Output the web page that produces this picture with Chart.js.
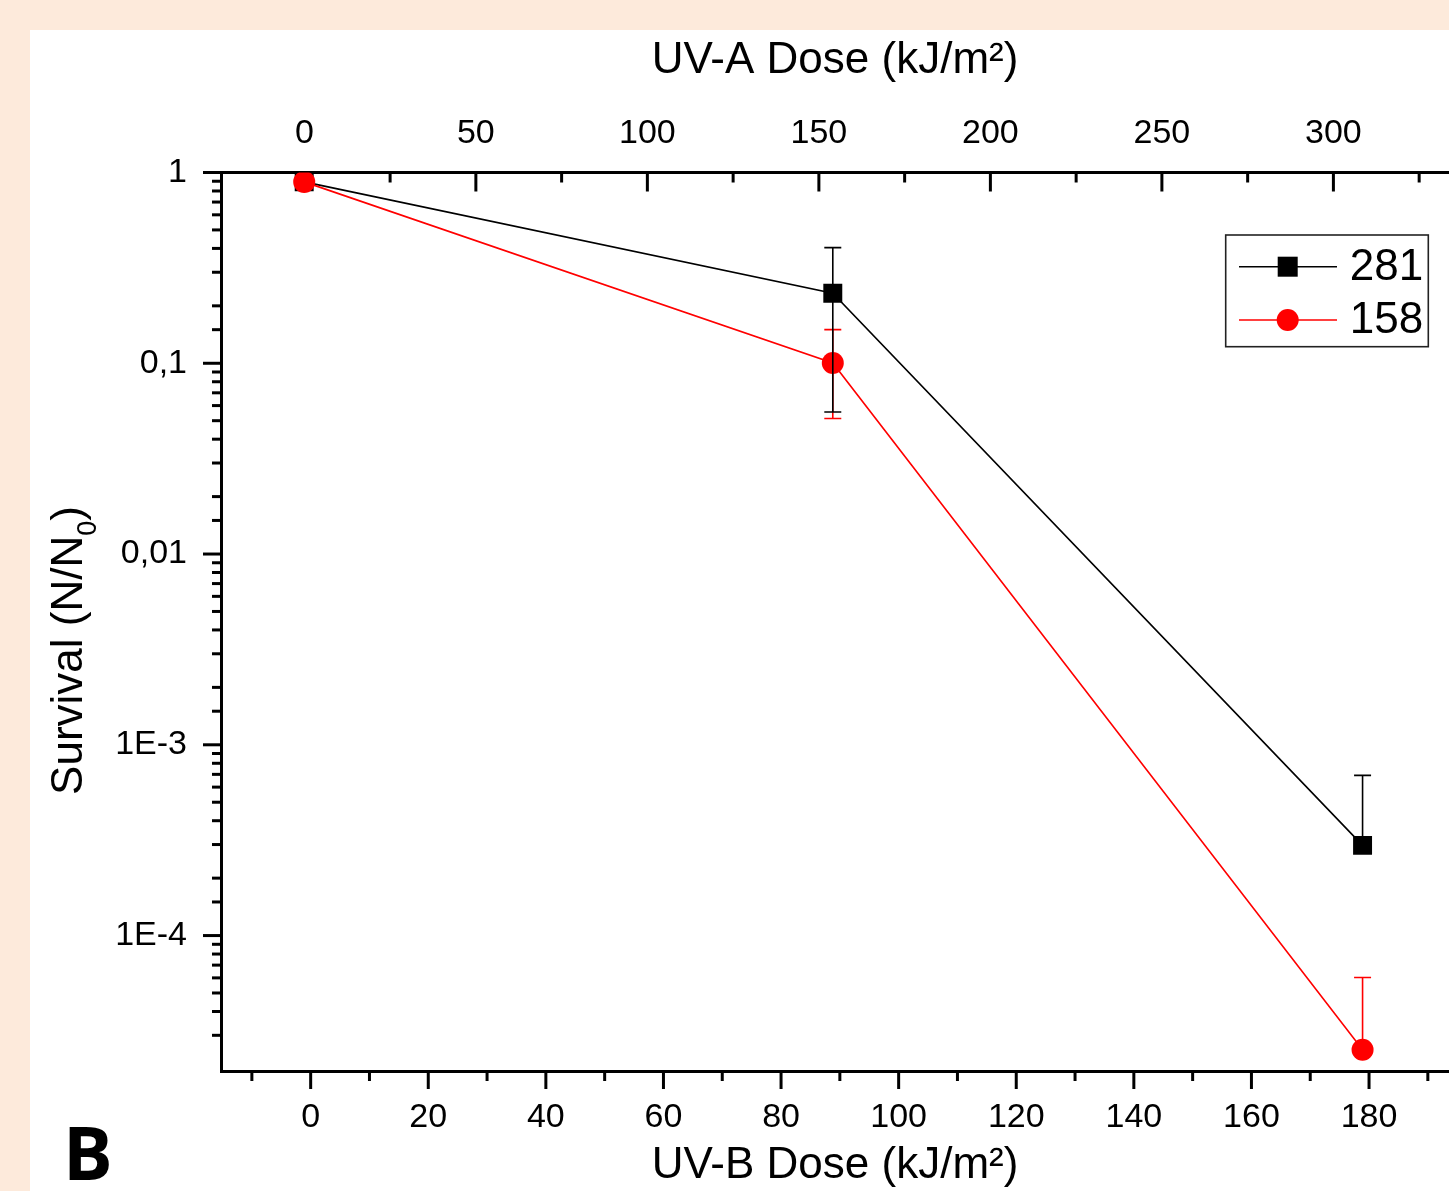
<!DOCTYPE html>
<html><head><meta charset="utf-8">
<script src="https://cdn.jsdelivr.net/npm/chart.js@4.4.0/dist/chart.umd.min.js"></script>
<style>
html,body{margin:0;padding:0;background:#fdeadb;overflow:hidden;width:1449px;height:1191px;}
#wrap{position:absolute;left:30px;top:30px;width:1419px;height:1161px;background:#fff;}
canvas{display:block;}
#lbl{position:absolute;left:0;top:0;pointer-events:none;}
</style></head><body>
<div id="wrap"><canvas id="c" width="1419" height="1161"></canvas></div>
<svg id="lbl" width="1449" height="1191"><text x="63" y="1180" font-family="Open Sans" font-weight="700" font-size="74" fill="#000">B</text></svg>
<script>
// ---- data ----
const seriesNames = ['281', '158'];
const seriesColors = ['#000000', '#ff0000'];
const uvbDose = [-1.1, 88.8, 178.9];
const survival281 = [0.893, 0.233, 2.97e-4];
const survival158 = [0.893, 0.1004, 2.52e-5];
const upper281 = [null, 0.404, 6.91e-4];
const lower281 = [null, 0.0555, null];
const upper158 = [null, 0.150, 6.03e-5];
const lower158 = [null, 0.0513, null];
const yTickValues = [1, 0.1, 0.01, 0.001, 0.0001];
const yTickLabels = ['1', '0,1', '0,01', '1E-3', '1E-4'];
const xBottomRange = [-15.25, 193.6];
const xTopRange = [-24.3, 333.7];
const yRange = [1.95e-5, 1];
const xBottomTitle = 'UV-B Dose (kJ/m²)';
const xTopTitle = 'UV-A Dose (kJ/m²)';
const yTitleMain = 'Survival (N/N';
const yTitleSub = '0';
const yTitleEnd = ')';

const FONT = "'Liberation Sans', Arial, sans-serif";
Chart.defaults.font.family = FONT;
Chart.defaults.color = '#000';

function pts(xs, ys) { return xs.map((x, i) => ({x: x, y: ys[i]})); }
const isDecade = v => Math.abs(Math.log10(v) - Math.round(Math.log10(v))) < 1e-6;
const noPad = s => { s.paddingLeft = 0; s.paddingRight = 0; s.paddingTop = 0; s.paddingBottom = 0; };

const tickPlugin = {
  id: 'tickMarks',
  beforeDatasetsDraw(chart) {
    const ctx = chart.ctx, ca = chart.chartArea;
    ctx.save();
    ctx.strokeStyle = '#000'; ctx.lineWidth = 3; ctx.lineCap = 'butt';
    const line = (x1, y1, x2, y2) => { ctx.beginPath(); ctx.moveTo(x1, y1); ctx.lineTo(x2, y2); ctx.stroke(); };
    const xb = chart.scales.x;
    xb.ticks.forEach(t => {
      const px = xb.getPixelForValue(t.value);
      const major = Math.abs(t.value % 20) < 1e-9;
      line(px, ca.bottom, px, ca.bottom + (major ? 18 : 10));
    });
    const xt = chart.scales.x2;
    xt.ticks.forEach(t => {
      const px = xt.getPixelForValue(t.value);
      const major = Math.abs(t.value % 50) < 1e-9;
      line(px, ca.top, px, ca.top + (major ? 19 : 10));
    });
    const ys = chart.scales.y;
    ys.ticks.forEach(t => {
      if (t.value <= ys.min * 1.0001) return;
      const py = ys.getPixelForValue(t.value);
      const major = isDecade(t.value);
      line(ca.left - (major ? 18 : 9), py, ca.left, py);
    });
    ctx.restore();
  }
};

const errPlugin = {
  id: 'errBars',
  afterDatasetsDraw(chart) {
    const ctx = chart.ctx;
    const xs = chart.scales.x, ys = chart.scales.y;
    const sets = [[upper158, lower158, seriesColors[1], survival158], [upper281, lower281, seriesColors[0], survival281]];
    ctx.save();
    ctx.lineWidth = 1.6;
    sets.forEach(([up, lo, col, vals]) => {
      ctx.strokeStyle = col;
      uvbDose.forEach((xv, i) => {
        const px = xs.getPixelForValue(xv);
        const pc = ys.getPixelForValue(vals[i]);
        [up[i], lo[i]].forEach(e => {
          if (e == null) return;
          const pe = ys.getPixelForValue(e);
          ctx.beginPath(); ctx.moveTo(px, pc); ctx.lineTo(px, pe);
          ctx.moveTo(px - 8.5, pe); ctx.lineTo(px + 8.5, pe); ctx.stroke();
        });
      });
    });
    ctx.restore();
  }
};

const decorPlugin = {
  id: 'decor',
  afterDraw(chart) {
    const ctx = chart.ctx, ca = chart.chartArea;
    ctx.save();
    ctx.fillStyle = '#000';
    ctx.textBaseline = 'alphabetic'; ctx.textAlign = 'left';
    ctx.font = '44px ' + FONT;
    const wM = ctx.measureText(yTitleMain).width;
    const wE = ctx.measureText(yTitleEnd).width;
    ctx.font = '27px ' + FONT;
    const wS = ctx.measureText(yTitleSub).width;
    const total = wM + wS + wE;
    ctx.translate(52, 620.5);
    ctx.rotate(-Math.PI / 2);
    const s = -total / 2;
    ctx.font = '44px ' + FONT;
    ctx.fillText(yTitleMain, s, 0);
    ctx.font = '27px ' + FONT;
    ctx.fillText(yTitleSub, s + wM, 14);
    ctx.font = '44px ' + FONT;
    ctx.fillText(yTitleEnd, s + wM + wS, 0);
    ctx.restore();

    ctx.save();
    const bx = ca.right - 223.3, by = ca.top + 62.5, bw = 202.6, bh = 111.7;
    ctx.fillStyle = '#fff'; ctx.fillRect(bx, by, bw, bh);
    ctx.strokeStyle = '#222'; ctx.lineWidth = 1.6; ctx.strokeRect(bx, by, bw, bh);
    chart.data.datasets.forEach((ds, i) => {
      const cy = by + 31.7 + i * 53.3;
      ctx.strokeStyle = ds.borderColor; ctx.lineWidth = 1.6;
      ctx.beginPath(); ctx.moveTo(bx + 13.3, cy); ctx.lineTo(bx + 111.3, cy); ctx.stroke();
      ctx.fillStyle = ds.backgroundColor;
      const mx = bx + 62;
      if (ds.pointStyle === 'rect') { ctx.fillRect(mx - 10, cy - 10, 20, 20); }
      else { ctx.beginPath(); ctx.arc(mx, cy, 11, 0, Math.PI * 2); ctx.fill(); }
      ctx.fillStyle = '#000'; ctx.font = '44px ' + FONT;
      ctx.textBaseline = 'middle'; ctx.textAlign = 'left';
      ctx.fillText(ds.label, bx + 124, cy + 1);
    });
    ctx.restore();
  }
};

new Chart(document.getElementById('c'), {
  type: 'line',
  data: {
    datasets: [
      {label: seriesNames[0], data: pts(uvbDose, survival281), borderColor: seriesColors[0], backgroundColor: seriesColors[0],
       borderWidth: 1.6, pointStyle: 'rect', pointRadius: 13.4, pointBorderWidth: 0, pointHoverRadius: 13.4, order: 1, xAxisID: 'x', yAxisID: 'y'},
      {label: seriesNames[1], data: pts(uvbDose, survival158), borderColor: seriesColors[1], backgroundColor: seriesColors[1],
       borderWidth: 1.6, pointStyle: 'circle', pointRadius: 11, pointBorderWidth: 0, pointHoverRadius: 11, order: 0, xAxisID: 'x', yAxisID: 'y'}
    ]
  },
  options: {
    responsive: false, animation: false,
    layout: {padding: 0, autoPadding: false},
    plugins: {legend: {display: false}, tooltip: {enabled: false}},
    scales: {
      x: {
        type: 'linear', position: 'bottom', min: xBottomRange[0], max: xBottomRange[1],
        grid: {drawOnChartArea: false, drawTicks: false},
        border: {display: true, width: 3, color: '#000'},
        ticks: {stepSize: 10, includeBounds: false, autoSkip: false, maxRotation: 0, padding: 26,
          font: {size: 34}, color: '#000',
          callback: v => (Math.abs(v % 20) < 1e-9 ? String(Math.round(v)) : '')},
        title: {display: true, text: xBottomTitle, font: {size: 44}, color: '#000', padding: {top: 0, bottom: -1}},
        afterFit: s => { s.height = 120; noPad(s); }
      },
      x2: {
        type: 'linear', position: 'top', axis: 'x', min: xTopRange[0], max: xTopRange[1],
        grid: {drawOnChartArea: false, drawTicks: false},
        border: {display: true, width: 3, color: '#000'},
        ticks: {stepSize: 25, includeBounds: false, autoSkip: false, maxRotation: 0, padding: 18,
          font: {size: 34}, color: '#000',
          callback: v => (Math.abs(v % 50) < 1e-9 ? String(Math.round(v)) : '')},
        title: {display: true, text: xTopTitle, font: {size: 44}, color: '#000', padding: {top: 4, bottom: 0}},
        afterFit: s => { s.height = 142.5; noPad(s); }
      },
      y: {
        type: 'logarithmic', position: 'left', min: yRange[0], max: yRange[1],
        grid: {drawOnChartArea: false, drawTicks: false},
        border: {display: true, width: 3, color: '#000'},
        ticks: {autoSkip: false, padding: 34, font: {size: 34}, color: '#000',
          callback: v => { const i = yTickValues.findIndex(t => Math.abs(Math.log10(t) - Math.log10(v)) < 1e-6); return i >= 0 ? yTickLabels[i] : ''; }},
        afterFit: s => { s.width = 191; noPad(s); }
      }
    }
  },
  plugins: [tickPlugin, errPlugin, decorPlugin]
});
</script>
</body></html>
